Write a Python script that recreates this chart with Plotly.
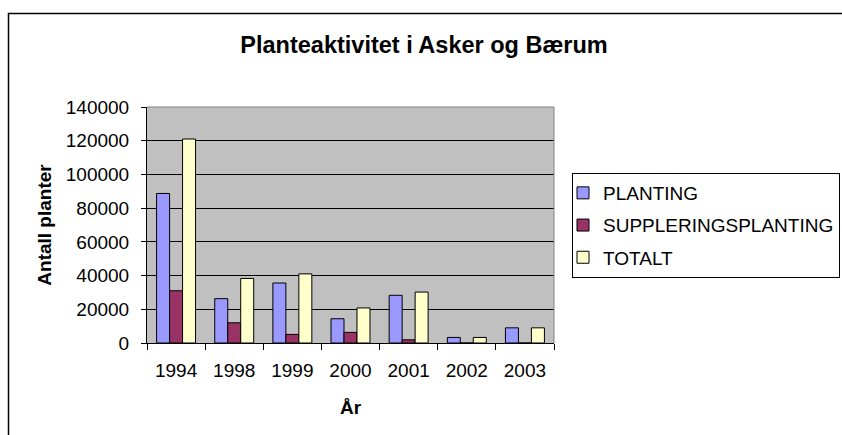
import plotly.graph_objects as go

years = ["1994", "1998", "1999", "2000", "2001", "2002", "2003"]
planting = [88700, 26300, 35600, 14400, 28300, 3300, 9000]
suppleringsplanting = [31000, 12000, 5100, 6300, 1900, 0, 0]
totalt = [121000, 38300, 41000, 20800, 30200, 3300, 9000]

series_names = ["PLANTING", "SUPPLERINGSPLANTING", "TOTALT"]
series_values = [planting, suppleringsplanting, totalt]
series_colors = ["#9999FF", "#993366", "#FFFFCC"]

FONT = "Arial, 'Liberation Sans', sans-serif"

fig = go.Figure()
for name, vals, col in zip(series_names, series_values, series_colors):
    fig.add_trace(go.Bar(
        x=years, y=vals, name=name, legendgroup=name,
        marker=dict(color=col, line=dict(color="black", width=1)),
    ))

W, H = 842, 435
L, R, T, B = 147, 288, 107, 92
pw, ph = W - L - R, H - T - B

def px_x(x):
    return (x - L) / pw

def px_y(y):
    return (H - B - y) / ph

fig.update_layout(
    width=W, height=H,
    margin=dict(l=L, r=R, t=T, b=B, autoexpand=False),
    paper_bgcolor="white",
    plot_bgcolor="#C0C0C0",
    font=dict(family=FONT, size=19, color="black"),
    barmode="group",
    bargap=0.33,
    bargroupgap=0,
    title=dict(text="<b>Planteaktivitet i Asker og Bærum</b>",
               font=dict(size=23.5, family=FONT, color="black"),
               x=424 / W, xanchor="center", xref="container",
               y=(H - 45) / H, yanchor="middle", yref="container"),
    xaxis=dict(
        type="category",
        showline=True, linecolor="black", linewidth=1,
        ticks="outside", ticklen=6, tickcolor="black", tickson="boundaries",
        ticklabelstandoff=10,
        showgrid=False,
        title=dict(text="<b>År</b>", font=dict(size=19), standoff=20),
    ),
    yaxis=dict(
        range=[0, 140000], dtick=20000, tickformat="d",
        showline=True, linecolor="black", linewidth=1,
        ticks="outside", ticklen=5, tickcolor="black",
        ticklabelstandoff=8,
        showgrid=True, gridcolor="black", gridwidth=1,
        zeroline=False,
        title=dict(text="<b>Antall planter</b>", font=dict(size=19), standoff=9),
    ),
    legend=dict(
        x=px_x(572), xanchor="left",
        y=px_y(173), yanchor="top",
        bordercolor="black", borderwidth=1, bgcolor="white",
        font=dict(size=19), tracegroupgap=4.5,
        traceorder="grouped", indentation=-10,
    ),
    showlegend=True,
)

# plot area border (grey) on top and right
fig.add_shape(type="line", xref="paper", yref="paper", x0=0, x1=1, y0=1, y1=1,
              line=dict(color="#808080", width=1), layer="above")
fig.add_shape(type="line", xref="paper", yref="paper", x0=1, x1=1, y0=0, y1=1,
              line=dict(color="#808080", width=1), layer="above")
# chart outer frame
fig.add_shape(type="rect", xref="paper", yref="paper",
              x0=px_x(8.5), x1=px_x(860), y0=px_y(450), y1=px_y(13.5),
              line=dict(color="black", width=1.5), layer="below")

fig.write_html("out.html", config={"displayModeBar": False},
               post_script="document.body.style.margin='0px';")
